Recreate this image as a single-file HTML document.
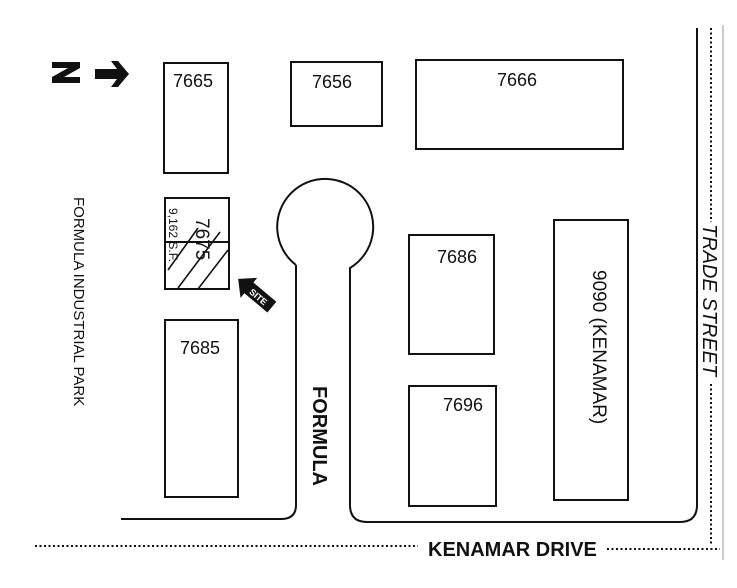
<!DOCTYPE html>
<html><head><meta charset="utf-8"><style>
html,body{margin:0;padding:0;background:#fff;}
svg{display:block;font-family:"Liberation Sans",Arial,sans-serif;}
</style></head><body>
<svg width="737" height="588" viewBox="0 0 737 588" xmlns="http://www.w3.org/2000/svg">
<g fill="none" stroke="#111" stroke-width="2">
<rect x="164" y="63" width="64" height="110"/>
<rect x="291" y="62" width="91" height="64"/>
<rect x="416" y="60" width="207" height="89"/>
<rect x="165" y="198" width="64" height="91"/>
<rect x="165" y="320" width="73" height="177"/>
<rect x="409" y="235" width="85" height="119"/>
<rect x="409" y="386" width="87" height="120"/>
<rect x="554" y="220" width="74" height="280"/>
<line x1="165" y1="242" x2="229" y2="242"/>
<line x1="168" y1="270" x2="198" y2="228" stroke-width="1.6"/>
<line x1="178" y1="288" x2="220" y2="232" stroke-width="1.6"/>
<line x1="198" y1="289" x2="228" y2="250" stroke-width="1.6"/>
<path d="M296,265 A48,48 0 1 1 350,268 L350,505 Q350,522 367,522 L680,522 Q697,522 697,505 L697,28"/>
<path d="M296,265 L296,505 Q296,519 281,519 L121,519"/>
</g>
<g stroke="#111" stroke-width="2" stroke-dasharray="2,2.5" fill="none">
<line x1="711" y1="28" x2="711" y2="222"/>
<line x1="711" y1="384" x2="711" y2="545"/>
<line x1="35" y1="546" x2="418" y2="546"/>
<line x1="607" y1="549" x2="720" y2="549"/>
</g>
<line x1="723" y1="25" x2="723" y2="560" stroke="#999" stroke-width="1"/>
<g font-size="18" fill="#111">
<text x="173" y="87">7665</text>
<text x="312" y="88">7656</text>
<text x="497" y="86">7666</text>
<text x="180" y="354">7685</text>
<text x="437" y="263">7686</text>
<text x="443" y="411">7696</text>
</g>
<text transform="translate(196,218) rotate(90)" font-size="19" fill="#111">7675</text>
<text transform="translate(169,208) rotate(90)" font-size="12" fill="#111">9,162 S.F.</text>
<text transform="translate(593,270) rotate(90)" font-size="19" fill="#111">9090 (KENAMAR)</text>
<text transform="translate(74,197) rotate(90)" font-size="15" fill="#111">FORMULA INDUSTRIAL PARK</text>
<text transform="translate(313,386) rotate(90)" font-size="20" font-weight="bold" fill="#111">FORMULA</text>
<text transform="translate(703,224) rotate(90)" font-size="20" font-style="italic" fill="#111">TRADE STREET</text>
<text x="428" y="556" font-size="20" font-weight="bold" fill="#111">KENAMAR DRIVE</text>
<path d="M52,62 L80,62 L80,68 L64,77 L80,77 L80,83 L52,83 L52,77 L68,68 L52,68 Z" fill="#111"/>
<path d="M95,69 L117,69 L111,61 L118,61 L129,74 L118,87 L111,87 L117,79 L95,79 Z" fill="#111"/>
<g transform="translate(255,293) rotate(40)">
<path d="M-22,0 L-8,-13 L-8,-7 L22,-7 L22,7 L-8,7 L-8,13 Z" fill="#111"/>
<text x="-5" y="4" font-size="9" font-weight="bold" fill="#fff">SITE</text>
</g>
</svg>
</body></html>
